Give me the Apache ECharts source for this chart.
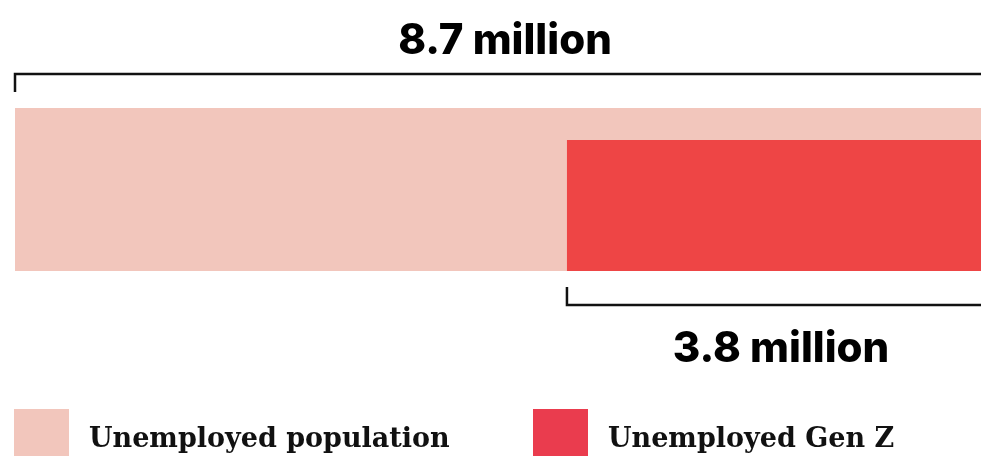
<!DOCTYPE html>
<html>
<head>
<meta charset="utf-8">
<script src="https://cdn.jsdelivr.net/npm/echarts@6/dist/echarts.min.js"></script>
<style>
html,body{margin:0;padding:0;background:#fff;}
#chart{width:981px;height:456px;}
</style>
</head>
<body>
<div id="chart"></div>
<script>
// Data (millions)
const categories = ['Unemployed population', 'Unemployed Gen Z'];
const values = [8.7, 3.8];
const valueLabels = ['8.7 million', '3.8 million'];
const colors = ['#F2C6BC', '#EE4545'];
const legendColors = ['#F2C6BC', '#EA3C4E'];

const total = values[0];
const labelFont = 'Inter';
const legendFont = 'DejaVu Serif';

const chart = echarts.init(document.getElementById('chart'));

function barItem(which) {
  return function (params, api) {
    const x0 = api.value(0), x1 = api.value(1);
    const p0 = api.coord([x0, 0]);
    const p1 = api.coord([x1, 1]);
    const left = p0[0], right = p1[0], bottom = p0[1], top = p1[1];
    const h = which === 0 ? (bottom - top) : 131;
    const rectTop = bottom - h;
    const children = [{
      type: 'rect',
      shape: { x: left, y: rectTop, width: right - left, height: h },
      style: { fill: api.visual('color') }
    }];
    if (which === 0) {
      const by = rectTop - 34;
      children.push({
        type: 'polyline',
        shape: { points: [[left, by + 18], [left, by], [right, by], [right, by + 18]] },
        style: { stroke: '#111', lineWidth: 2.5, fill: null }
      });
      children.push({
        type: 'text',
        style: { x: (left + right) / 2, y: by - 33, text: valueLabels[0], fill: '#000',
          font: '800 42px ' + labelFont, align: 'center', verticalAlign: 'middle' }
      });
    } else {
      const by = bottom + 34;
      children.push({
        type: 'polyline',
        shape: { points: [[left, by - 18], [left, by], [right, by], [right, by - 18]] },
        style: { stroke: '#111', lineWidth: 2.5, fill: null }
      });
      children.push({
        type: 'text',
        style: { x: (left + right) / 2, y: by + 44, text: valueLabels[1], fill: '#000',
          font: '800 42px ' + labelFont, align: 'center', verticalAlign: 'middle' }
      });
    }
    return { type: 'group', children: children };
  };
}

const legendBase = {
  orient: 'horizontal', top: 409, padding: 0, itemWidth: 55, itemHeight: 48, icon: 'rect',
  itemGap: 20, selectedMode: false,
  formatter: '{t|{name}}',
  textStyle: {
    rich: {
      t: { fontFamily: legendFont, fontWeight: 'bold', fontSize: 27, color: '#111', padding: [14, 0, 0, 15] }
    }
  }
};

chart.setOption({
  animation: false,
  grid: { left: 15, right: -14, top: 108, height: 163, outerBoundsMode: 'none', containLabel: false },
  xAxis: { type: 'value', min: 0, max: total, show: false },
  yAxis: { type: 'value', min: 0, max: 1, show: false },
  legend: [
    Object.assign({}, legendBase, { left: 14, data: [{ name: categories[0], itemStyle: { color: legendColors[0] } }] }),
    Object.assign({}, legendBase, { left: 533, data: [{ name: categories[1], itemStyle: { color: legendColors[1] } }] })
  ],
  series: [
    { type: 'custom', name: categories[0], clip: false, itemStyle: { color: colors[0] },
      renderItem: barItem(0), encode: { x: [0, 1] }, data: [[0, values[0]]] },
    { type: 'custom', name: categories[1], clip: false, itemStyle: { color: colors[1] },
      renderItem: barItem(1), encode: { x: [0, 1] }, data: [[total - values[1], total]] }
  ]
});
</script>
</body>
</html>
